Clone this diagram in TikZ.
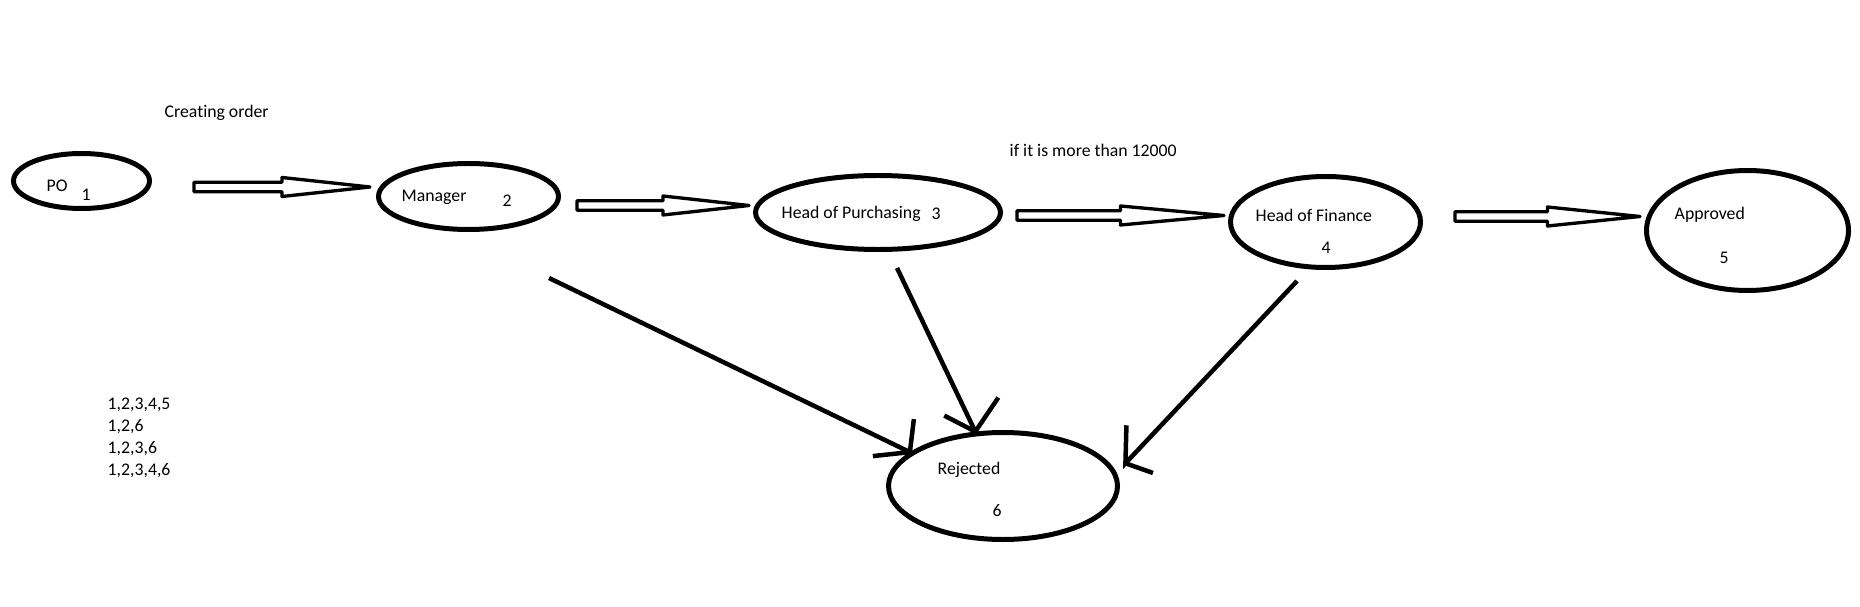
\documentclass[tikz,border=0pt]{standalone}
\usepackage{fontspec}
\setmainfont{Carlito}[Ligatures=NoCommon]
\usetikzlibrary{shapes.geometric,calc}

\tikzset{
	state/.style={draw, ellipse, line width=1.42pt, inner sep=0pt},
	lbl/.style={anchor=base west, inner sep=0pt, font=\fontsize{5.05pt}{6.17pt}\selectfont},
	fat/.style={line width=0.95pt, line join=round, to path={
		let \p1=(\tikztostart), \p2=(\tikztotarget), \p3=($(\tikztostart)!0.5!(\tikztotarget)$) in
		(\x1,\y1+0.0475cm) -- (\x3,\y1+0.0475cm) -- (\x3,\y1+0.095cm) -- (\x2,\y1)
		-- (\x3,\y1-0.095cm) -- (\x3,\y1-0.0475cm) -- (\x1,\y1-0.0475cm) -- cycle}},
	rline/.style={line width=1.28pt}
}

\begin{document}
\begin{tikzpicture}
	\useasboundingbox (0,0) rectangle (18.6,6.06);

	% states
	\node[state, minimum width=1.36cm, minimum height=0.55cm] (po) at (0.815,4.25) {};
	\node[state, minimum width=1.80cm, minimum height=0.66cm] (mgr) at (4.685,4.095) {};
	\node[state, minimum width=2.45cm, minimum height=0.74cm] (hop) at (8.78,3.935) {};
	\node[state, minimum width=1.90cm, minimum height=0.91cm] (hof) at (13.255,3.84) {};
	\node[state, minimum width=2.02cm, minimum height=1.20cm] (ok) at (17.475,3.755) {};
	\node[state, minimum width=2.29cm, minimum height=1.07cm] (rej) at (10.03,1.20) {};

	% label
	\node[lbl] (po-txt) at (0.46,4.14) {PO};
	\node[lbl] (po-num) at (0.81,4.05) {1};
	\node[lbl] (mgr-txt) at (4.01,4.045) {Manager};
	\node[lbl] (mgr-num) at (5.02,3.99) {2};
	\node[lbl] (hop-txt) at (7.81,3.87) {Head of Purchasing};
	\node[lbl] (hop-num) at (9.31,3.86) {3};
	\node[lbl] (hof-txt) at (12.55,3.84) {Head of Finance};
	\node[lbl] (hof-num) at (13.21,3.52) {4};
	\node[lbl] (ok-txt) at (16.74,3.86) {Approved};
	\node[lbl] (ok-num) at (17.19,3.43) {5};
	\node[lbl] (rej-txt) at (9.37,1.315) {Rejected};
	\node[lbl] (rej-num) at (9.92,0.90) {6};

	% notes
	\node[lbl] (create) at (1.64,4.88) {Creating order};
	\node[lbl] (limit) at (10.09,4.49) {if it is more than 12000};
	\node[lbl, align=left] (paths) at (1.07,1.31) {1,2,3,4,5\\1,2,6\\1,2,3,6\\1,2,3,4,6};

	% =>
	\coordinate (a1s) at (1.94,4.19);
	\coordinate (a1e) at (3.70,4.19);
	\coordinate (a2s) at (5.77,4.005);
	\coordinate (a2e) at (7.49,4.005);
	\coordinate (a3s) at (10.17,3.905);
	\coordinate (a3e) at (12.24,3.905);
	\coordinate (a4s) at (14.55,3.895);
	\coordinate (a4e) at (16.40,3.895);
	\draw[fat] (a1s) to (a1e);
	\draw[fat] (a2s) to (a2e);
	\draw[fat] (a3s) to (a3e);
	\draw[fat] (a4s) to (a4e);

	% -> rejected
	\coordinate (mgr-out) at (5.49,3.28);
	\coordinate (hop-out) at (8.97,3.38);
	\coordinate (hof-out) at (12.97,3.25);
	\draw[rline] (mgr-out) -- (rej.160) -- +(0.04,0.33) (rej.160) -- +(-0.37,-0.04);
	\draw[rline] (hop-out) -- (rej.117) -- +(0.23,0.34) (rej.117) -- +(-0.31,0.16);
	\draw[rline] (hof-out) -- ([xshift=0.155cm]rej.12) -- +(0.01,0.38) ([xshift=0.155cm]rej.12) -- +(0.275,-0.097);
\end{tikzpicture}
\end{document}
